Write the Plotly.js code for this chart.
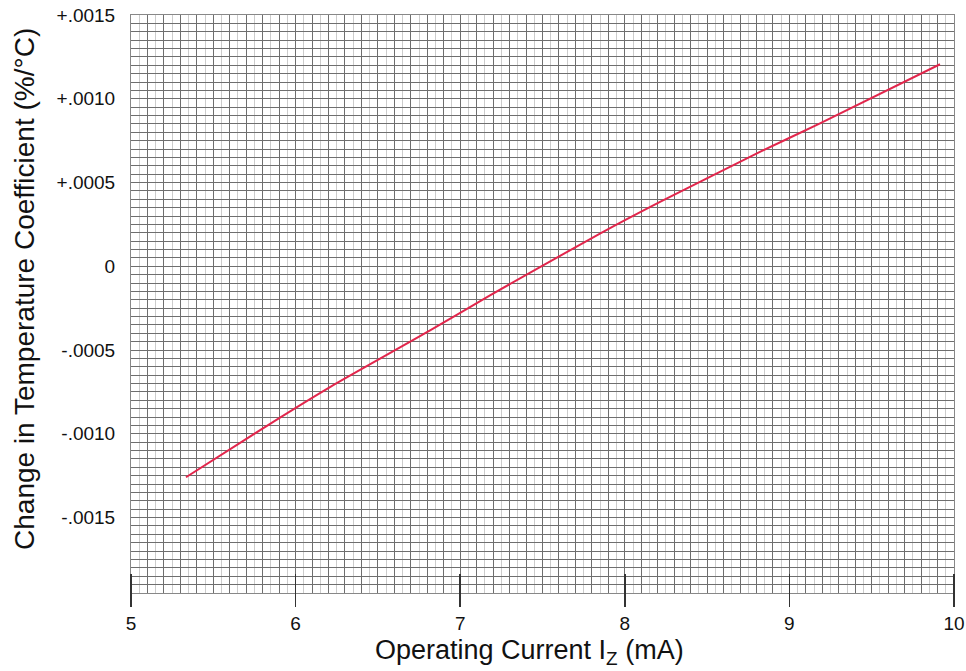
<!DOCTYPE html>
<html>
<head>
<meta charset="utf-8">
<script src="https://cdn.plot.ly/plotly-3.0.1.min.js"></script>
<style>html,body{margin:0;padding:0;background:#fff;}#chart{width:966px;height:671px;}</style>
</head>
<body>
<div id="chart"></div>
<script>
// Data
const currentMA = [5.334, 5.845, 6.209, 6.817, 7.181, 7.849, 8.214, 8.821, 9.186, 9.915];
const tempCoeff = [-0.001259, -0.000940, -0.000721, -0.000383, -0.000173, 0.000195, 0.000384, 0.000683, 0.000853, 0.001206];
const xTickVals = [5, 6, 7, 8, 9, 10];
const xTickText = ['5', '6', '7', '8', '9', '10'];
const yTickVals = [0.0015, 0.0010, 0.0005, 0, -0.0005, -0.0010, -0.0015];
const yTickText = ['+.0015', '+.0010', '+.0005', '0', '-.0005', '-.0010', '-.0015'];
const xTitle = 'Operating Current I<sub>Z</sub> (mA)';
const yTitle = 'Change in Temperature Coefficient (%/°C)';

const DARK = '#6e6e6e';
const LIGHT = '#cccccc';
const FONT = 'Liberation Sans, Arial, sans-serif';
const xRange = [5, 10];
const yRange = [-0.00195, 0.0015];

const trace = {
  x: currentMA, y: tempCoeff, type: 'scatter', mode: 'lines',
  line: {color: '#e2264c', width: 2, shape: 'spline', smoothing: 0.6},
  hoverinfo: 'skip', xaxis: 'x', yaxis: 'y'
};
// invisible trace to activate the overlay axis
const helper = {x: [5], y: [0], type: 'scatter', mode: 'markers', marker: {opacity: 0}, xaxis: 'x2', yaxis: 'y', hoverinfo: 'skip', showlegend: false};

const layout = {
  width: 966, height: 671,
  margin: {l: 131, r: 12, t: 15, b: 78},
  paper_bgcolor: '#fff', plot_bgcolor: '#fff',
  showlegend: false,
  font: {family: FONT, color: '#111'},
  xaxis: {
    range: xRange, anchor: 'free', position: 0.035,
    tickmode: 'array', tickvals: xTickVals, ticktext: xTickText,
    ticks: 'outside', ticklen: 33, tickwidth: 1.5, tickcolor: '#333',
    tickfont: {size: 19, family: FONT, color: '#111'},
    showgrid: true, gridcolor: DARK, gridwidth: 1,
    minor: {tickmode: 'linear', tick0: 5, dtick: 0.05, showgrid: true, gridcolor: LIGHT, gridwidth: 1, ticks: ''},
    showline: false, zeroline: false
  },
  xaxis2: {
    range: xRange, overlaying: 'x', anchor: 'y', side: 'bottom',
    tickmode: 'linear', tick0: 5, dtick: 0.1,
    showticklabels: false, ticks: '',
    showgrid: true, gridcolor: DARK, gridwidth: 1,
    showline: true, mirror: true, linecolor: '#888', linewidth: 1,
    zeroline: false
  },
  yaxis: {
    range: yRange,
    tickmode: 'array', tickvals: yTickVals, ticktext: yTickText,
    ticks: 'outside', ticklen: 11, tickcolor: 'rgba(0,0,0,0)',
    tickfont: {size: 19, family: FONT, color: '#111'},
    showgrid: true, gridcolor: DARK, gridwidth: 1,
    minor: {tickmode: 'linear', tick0: 0, dtick: 0.00005, showgrid: true, gridcolor: DARK, gridwidth: 1, ticks: ''},
    showline: true, mirror: true, linecolor: '#888', linewidth: 1,
    zeroline: false
  },
  annotations: [
    {text: xTitle, xref: 'paper', yref: 'paper', x: 0.4836, y: -0.102, xanchor: 'center', yanchor: 'middle',
     showarrow: false, font: {size: 27, family: FONT, color: '#111'}},
    {text: yTitle, xref: 'paper', yref: 'paper', x: -0.1288, y: 0.526, xanchor: 'center', yanchor: 'middle',
     textangle: -90, showarrow: false, font: {size: 28, family: FONT, color: '#111'}}
  ]
};

Plotly.newPlot('chart', [trace, helper], layout, {staticPlot: true, displayModeBar: false});
</script>
</body>
</html>
